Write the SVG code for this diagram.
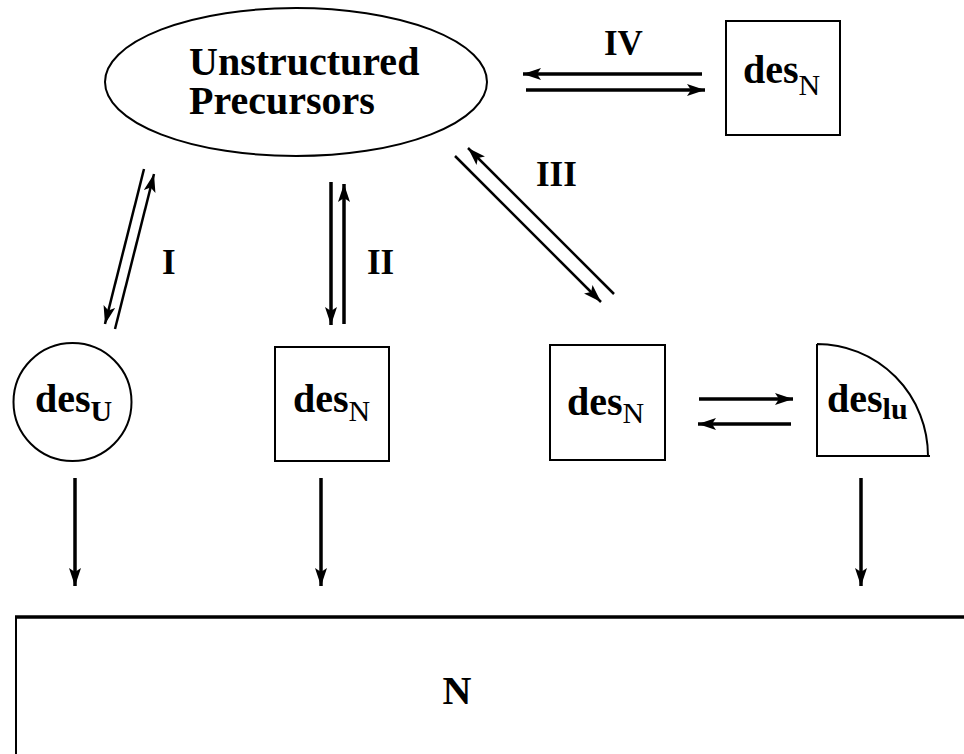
<svg xmlns="http://www.w3.org/2000/svg" width="964" height="754" viewBox="0 0 964 754">
<defs>
<style>
.shape{fill:none;stroke:#000;stroke-width:2}
.lbl{font-family:"Liberation Serif","Times New Roman",serif;font-weight:bold;fill:#000}
.main{font-size:40px}
.sub{font-size:30px}
.subn{font-size:30px;font-weight:normal}
.num{font-size:35px}
.arr{fill:none;stroke:#000;stroke-width:2.5;marker-end:url(#ah)}
.arrT{fill:none;stroke:#000;stroke-width:3.5;marker-end:url(#ah)}
</style>
<marker id="ah" markerUnits="userSpaceOnUse" markerWidth="20" markerHeight="12" refX="18" refY="6" orient="auto" viewBox="0 0 20 12">
<path d="M0,0 L18,6 L0,12 L4,6 z" fill="#000"/>
</marker>
</defs>
<rect width="964" height="754" fill="#fff"/>

<g id="precursors">
<ellipse class="shape" cx="296" cy="82" rx="191" ry="74"/>
<text class="lbl main" x="189" y="75">Unstructured</text>
<text class="lbl main" x="189" y="114">Precursors</text>
</g>

<g id="desN-top">
<rect class="shape" x="726" y="21" width="114" height="114"/>
<text class="lbl main" x="743" y="83">des<tspan class="subn" dy="12">N</tspan></text>
</g>

<g id="desU">
<circle class="shape" cx="72.5" cy="402" r="59"/>
<text class="lbl main" x="35" y="412">des<tspan class="sub" dy="9">U</tspan></text>
</g>

<g id="desN-left">
<rect class="shape" x="275" y="347" width="114" height="114"/>
<text class="lbl main" x="293" y="412">des<tspan class="subn" dy="9">N</tspan></text>
</g>

<g id="desN-right">
<rect class="shape" x="550" y="345" width="115" height="115"/>
<text class="lbl main" x="567" y="415">des<tspan class="subn" dy="8">N</tspan></text>
</g>

<g id="deslu">
<path class="shape" d="M817,344 V456 H930 M817,344 A111,112 0 0 1 928,456"/>
<text class="lbl main" x="827" y="412">des<tspan class="sub" dy="7">lu</tspan></text>
</g>

<g id="N-box">
<path fill="none" stroke="#000" stroke-width="2" d="M16,754 V617"/>
<path fill="none" stroke="#000" stroke-width="3.5" d="M15,617 H964"/>
<text class="lbl main" x="457" y="704" text-anchor="middle">N</text>
</g>

<g id="connectors">
<line class="arrT" x1="702" y1="74" x2="523" y2="74"/>
<line class="arrT" x1="526" y1="90" x2="705" y2="90"/>
<line class="arr" x1="144" y1="169" x2="105" y2="324"/>
<line class="arr" x1="115" y1="329" x2="154" y2="174"/>
<line class="arrT" x1="331" y1="182" x2="331" y2="325"/>
<line class="arrT" x1="344" y1="324" x2="344" y2="184"/>
<line class="arr" x1="455" y1="156" x2="601" y2="302"/>
<line class="arr" x1="614" y1="294" x2="468" y2="148"/>
<line class="arrT" x1="699" y1="399" x2="793" y2="399"/>
<line class="arrT" x1="791" y1="424" x2="698" y2="424"/>
<line class="arrT" x1="75" y1="478" x2="75" y2="586"/>
<line class="arrT" x1="321" y1="478" x2="321" y2="586"/>
<line class="arrT" x1="861" y1="478" x2="861" y2="586"/>
</g>

<g id="labels">
<text class="lbl num" x="604" y="55">IV</text>
<text class="lbl num" x="162" y="274">I</text>
<text class="lbl num" x="367" y="274">II</text>
<text class="lbl num" x="536" y="186">III</text>
</g>
</svg>
